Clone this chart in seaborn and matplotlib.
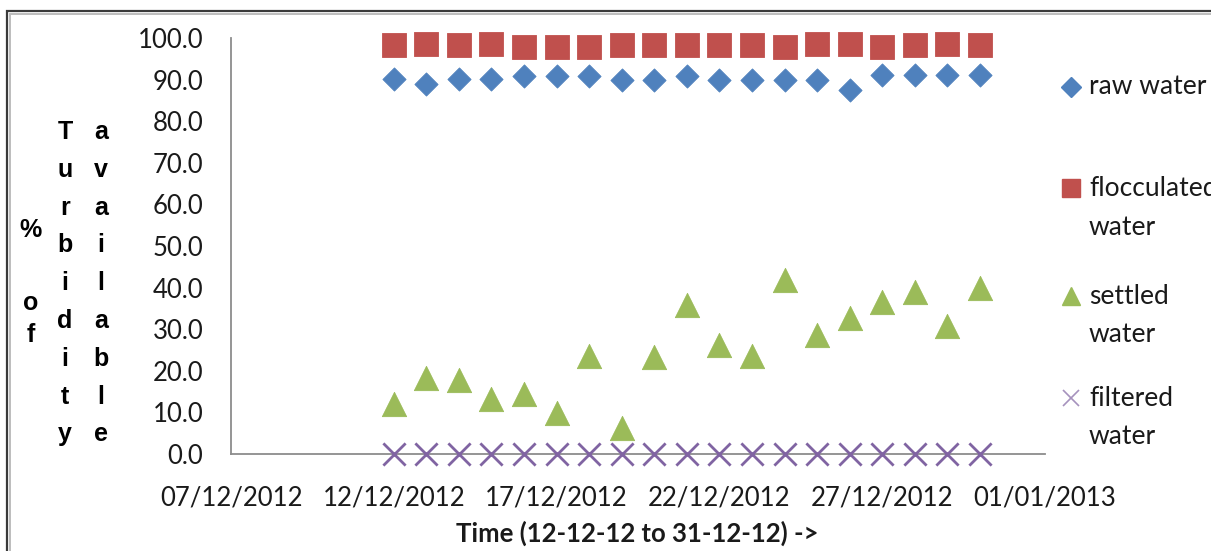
import matplotlib
matplotlib.use("Agg")
import matplotlib.pyplot as plt
from matplotlib.lines import Line2D
from matplotlib.patches import Rectangle
import pandas as pd
import seaborn as sns

# ---- data -------------------------------------------------------------
dates = ["2012-12-12", "2012-12-13", "2012-12-14", "2012-12-15", "2012-12-16",
         "2012-12-17", "2012-12-18", "2012-12-19", "2012-12-20", "2012-12-21",
         "2012-12-22", "2012-12-23", "2012-12-24", "2012-12-25", "2012-12-26",
         "2012-12-27", "2012-12-28", "2012-12-29", "2012-12-30"]
raw_water = [90.1, 88.9, 90.1, 90.1, 90.9, 90.9, 90.9, 90.0, 90.0, 90.9,
             90.0, 90.0, 90.0, 90.0, 87.5, 91.0, 91.0, 91.0, 91.0]
flocculated_water = [98.2, 98.6, 98.2, 98.6, 97.8, 97.8, 97.8, 98.2, 98.2, 98.2,
                     98.2, 98.2, 97.8, 98.6, 98.6, 97.8, 98.2, 98.6, 98.2]
settled_water = [12.0, 18.3, 17.9, 13.3, 14.5, 9.9, 23.6, 6.2, 23.3, 35.8,
                 26.3, 23.6, 41.9, 28.6, 32.7, 36.5, 38.9, 30.8, 40.0]
filtered_water = [0.0] * 19

x_ticks = ["2012-12-07", "2012-12-12", "2012-12-17", "2012-12-22",
           "2012-12-27", "2013-01-01"]
x_tick_labels = ["07/12/2012", "12/12/2012", "17/12/2012", "22/12/2012",
                 "27/12/2012", "01/01/2013"]
y_ticks = [0, 10, 20, 30, 40, 50, 60, 70, 80, 90, 100]

series_names = ["raw water", "flocculated water", "settled water", "filtered water"]
series_labels = [["raw water"], ["flocculated", "water"], ["settled", "water"],
                 ["filtered", "water"]]

# ---- style --------------------------------------------------------------
sns.set_style("white")
plt.rcParams["font.family"] = ["Lato", "DejaVu Sans"]

W, H = 1211, 551
fig = plt.figure(figsize=(W / 100, H / 100), dpi=100)
fig.patch.set_facecolor("white")

def fx(px):
    return px / W

def fy(py):
    return 1 - py / H

ax = fig.add_axes([fx(231), fy(454), fx(1045) - fx(231), fy(38) - fy(454)])

colors = ["#4F81BD", "#C0504D", "#9BBB59", "#8064A2"]
markers = ["D", "s", "^", "x"]
sizes = [11.8, 17.0, 17.5, 16.0]

df = pd.DataFrame({
    "date": pd.to_datetime(dates),
    "raw water": raw_water,
    "flocculated water": flocculated_water,
    "settled water": settled_water,
    "filtered water": filtered_water,
})
long = df.melt(id_vars="date", var_name="series", value_name="pct")

for name, col, mk, ms in zip(series_names, colors, markers, sizes):
    sub = long[long["series"] == name]
    if mk == "x":
        sns.scatterplot(data=sub, x="date", y="pct", ax=ax, marker=mk,
                        s=ms ** 2, color=col, linewidth=2.0, zorder=3,
                        clip_on=False, legend=False)
    else:
        sns.scatterplot(data=sub, x="date", y="pct", ax=ax, marker=mk,
                        s=ms ** 2, color=col, edgecolor=col, linewidth=0.6,
                        zorder=3, clip_on=False, legend=False)

# ---- axes -------------------------------------------------------------
axis_grey = "#8C8C8C"
ax.set_xlim(pd.Timestamp(x_ticks[0]), pd.Timestamp(x_ticks[-1]))
ax.set_ylim(0, 100)
ax.set_xticks(pd.to_datetime(x_ticks))
ax.set_xticklabels(x_tick_labels)
ax.set_yticks(y_ticks)
ax.set_yticklabels([f"{v:.1f}" for v in y_ticks])
ax.set_xlabel("")
ax.set_ylabel("")

for side in ["top", "right"]:
    ax.spines[side].set_visible(False)
for side in ["left", "bottom"]:
    ax.spines[side].set_color(axis_grey)
    ax.spines[side].set_linewidth(1.3)

ax.tick_params(axis="both", direction="out", length=9, width=1.2,
               color=axis_grey, labelsize=18.5, labelcolor="#1a1a1a")
ax.tick_params(axis="x", pad=14)
ax.tick_params(axis="y", pad=11)

# ---- axis titles --------------------------------------------------------
fig.text(fx(637), fy(533), "Time (12-12-12 to 31-12-12) ->", ha="center",
         va="center", fontsize=18.5, fontweight="bold", color="#1a1a1a")

yl_font = dict(fontsize=18, fontweight="bold", color="black",
               family=["Liberation Sans", "DejaVu Sans"], ha="center", va="center")
fig.text(fx(31), fy(230), "%", **yl_font)
fig.text(fx(31), fy(303), "o", **yl_font)
fig.text(fx(31), fy(335), "f", **yl_font)
step = 37.8
for i, ch in enumerate("Turbidity"):
    fig.text(fx(65), fy(132 + i * step), ch, **yl_font)
for i, ch in enumerate("available"):
    fig.text(fx(101), fy(132 + i * step), ch, **yl_font)

# ---- legend -------------------------------------------------------------
leg_rows = [[87], [188, 228], [296, 335], [398, 437]]
leg_sizes = [10.5, 12.5, 13.0, 12.0]
for rows, lines, col, mk, ms in zip(leg_rows, series_labels, colors, markers, leg_sizes):
    if mk == "x":
        h = Line2D([fx(1071)], [fy(rows[0])], marker=mk, markersize=ms,
                   color=col, markeredgewidth=1.2, linestyle="none",
                   transform=fig.transFigure, alpha=0.7)
    else:
        h = Line2D([fx(1071)], [fy(rows[0])], marker=mk, markersize=ms,
                   color=col, markeredgecolor=col, linestyle="none",
                   transform=fig.transFigure)
    fig.add_artist(h)
    for py, txt in zip(rows, lines):
        fig.text(fx(1089), fy(py), txt, ha="left", va="center", fontsize=19,
                 color="#1a1a1a")

# ---- chart-area border ------------------------------------------------------
fig.add_artist(Rectangle((fx(7), fy(H + 20)), fx(W + 40), fy(11) - fy(H + 20),
                         transform=fig.transFigure, fill=False,
                         edgecolor="#3a3a3a", linewidth=1.6))
fig.add_artist(Rectangle((fx(9.5), fy(H + 20)), fx(W + 40), fy(13.5) - fy(H + 20),
                         transform=fig.transFigure, fill=False,
                         edgecolor="#BDBDBD", linewidth=1.4))

fig.savefig("out.png", dpi=100)
